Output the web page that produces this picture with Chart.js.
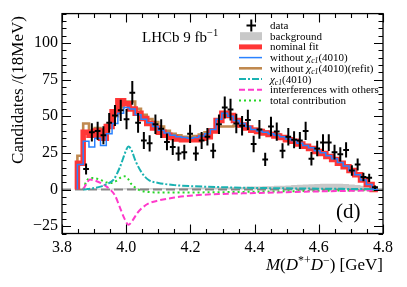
<!DOCTYPE html>
<html>
<head>
<meta charset="utf-8">
<script src="https://cdn.jsdelivr.net/npm/chart.js@4/dist/chart.umd.min.js"></script>
<style>
  body { margin: 0; background: #fff; }
  canvas { display: block; }
</style>
</head>
<body>
<canvas id="grafico" width="407" height="287"></canvas>
<script>
// 18 MeV bins, first data bin starts at 3.866 GeV
const binStart = 3.866;
const binWidth = 0.018;

const dataCounts = [14, 39, 40, 37, 45.5, 50.5, 54, 48, 66, 45.5,
  33.5, 31.5, 44.5, 41.5, 32.5, 29, 24.5, 25.5, 38, 24.5,
  33.5, 36, 26.5, 44.5, 56, 54.5, 45, 43.5, 47.5, 31,
  41, 20.5, 43, 39.5, 26.5, 36, 34, 33.5, 40, 21,
  28, 32, 32, 25.5, 24, 27, 13, 17, 8.5, 8,
  1.5];
const dataErrors = [3.7, 6.2, 6.3, 6.1, 6.7, 7.1, 7.3, 6.9, 8.1, 6.7,
  5.8, 5.6, 6.7, 6.4, 5.7, 5.4, 4.9, 5.0, 6.2, 4.9,
  5.8, 6.0, 5.1, 6.7, 7.5, 7.4, 6.7, 6.6, 6.9, 5.6,
  6.4, 4.5, 6.6, 6.3, 5.1, 6.0, 5.8, 5.8, 6.3, 4.6,
  5.3, 5.7, 5.7, 5.0, 4.9, 5.2, 3.6, 4.1, 2.9, 2.8,
  1.2];

const nominalFit = [18, 39, 37, 40, 35, 43, 53, 60.5, 58.5, 55,
  52, 48.5, 45, 42, 39, 37, 35.5, 34.5, 34, 34,
  34, 35, 36, 40, 47, 52, 50.5, 47, 44, 42,
  40.5, 39.5, 38.5, 37.5, 36.5, 35.5, 34, 33, 31, 29.5,
  28, 26, 24.5, 22.5, 20.5, 18, 15.5, 13, 10, 6.5,
  3.5];
const withoutChi = [17, 33, 29, 35, 30, 38, 45, 52, 56, 55,
  51, 48, 45.5, 43, 40.5, 38.5, 37, 36, 35.5, 35,
  35.5, 36.5, 38, 41, 48, 52, 50, 47, 45, 43,
  41, 40, 39, 38, 37, 36, 34.5, 33.5, 31.5, 30,
  28.5, 26.5, 25, 23, 21, 18.5, 16, 13, 10, 6.5,
  3.5];
const withoutChiRefit = [23, 45, 38, 42, 38, 44, 50, 56, 60, 60,
  55, 51, 48, 46, 43, 40, 38, 37, 36, 36,
  36.5, 37.5, 39, 41, 43, 43, 43, 43.5, 43, 42.5,
  41.5, 40.5, 39.5, 38.5, 37.5, 36, 34.5, 33.5, 31.5, 30,
  28, 26.5, 25, 23, 21, 18.5, 16, 13, 10, 6.5,
  3.5];
const background = [0.3, 0.4, 0.5, 0.5, 0.6, 0.6, 0.7, 0.7, 0.8, 0.8,
  0.8, 0.9, 0.9, 1.0, 1.0, 1.0, 1.1, 1.1, 1.2, 1.2,
  1.3, 1.3, 1.4, 1.4, 1.5, 1.5, 1.6, 1.7, 1.8, 1.9,
  2.0, 2.1, 2.2, 2.3, 2.5, 2.6, 2.8, 3.0, 3.2, 3.4,
  3.6, 3.8, 3.9, 4.0, 4.0, 3.9, 3.7, 3.4, 3.0, 2.6,
  2.0];

// smooth components
const chiMass = [3.866, 3.88, 3.90, 3.92, 3.94, 3.96, 3.98, 3.99, 4.0, 4.007, 4.015, 4.03, 4.05, 4.07, 4.10, 4.15, 4.20, 4.30, 4.40, 4.50, 4.60, 4.70, 4.784];
const chiValue = [0, 0.3, 1, 2, 3.8, 6.5, 15, 21, 27, 29.3, 27.5, 19, 11, 6.5, 4.5, 3, 2.3, 1.6, 1.1, 0.8, 0.6, 0.4, 0.3];
const interfMass = [3.866, 3.875, 3.887, 3.90, 3.92, 3.94, 3.95, 3.965, 3.98, 3.995, 4.007, 4.02, 4.035, 4.05, 4.07, 4.10, 4.15, 4.21, 4.30, 4.40, 4.50, 4.60, 4.70, 4.784];
const interfValue = [0, 3.5, 6.8, 6.3, 4.5, 1.8, 0, -4, -12, -20, -24, -21, -16, -12.5, -9.5, -7.5, -5.5, -4, -3, -2.4, -1.8, -1.3, -0.9, -0.5];
const totalMass = [3.866, 3.877, 3.89, 3.905, 3.92, 3.94, 3.955, 3.97, 3.985, 3.995, 4.005, 4.015, 4.03, 4.045, 4.065, 4.10, 4.20, 4.30, 4.40, 4.50, 4.60, 4.70, 4.784];
const totalValue = [0, 6, 7.8, 7.6, 6.5, 4.8, 4.5, 6, 8.5, 9, 7.5, 4, 1, -0.8, -1.6, -2, -2, -1.8, -1.5, -1.2, -0.9, -0.6, -0.4];

const xTicks = [3.8, 4.0, 4.2, 4.4, 4.6, 4.8];
const yTicks = [-25, 0, 25, 50, 75, 100];

const SERIF = "'Liberation Serif', 'DejaVu Serif', serif";
const colors = {
  red: '#ff3636',
  blue: '#2a82ff',
  brown: '#c0894f',
  cyan: '#1ab2b2',
  magenta: '#ff3acb',
  green: '#26d626',
  grey: '#c8c8c8'
};

// step histogram: one empty bin before, drop to zero after the last bin
function histo(values) {
  const pts = [{ x: binStart - binWidth, y: 0 }];
  values.forEach((v, i) => pts.push({ x: binStart + i * binWidth, y: v }));
  pts.push({ x: binStart + values.length * binWidth, y: 0 });
  return pts;
}

function curve(xs, ys) {
  return xs.map((x, i) => ({ x, y: ys[i] }));
}

// draws text made of pieces: '' normal, 'i' italic, 'sup', 'isub'
function richText(ctx, parts, x, y, size, align) {
  const fontOf = st => {
    const small = st === 'sup' || st === 'isub' || st === 'sub';
    const it = st === 'i' || st === 'isub';
    return (it ? 'italic ' : '') + (small ? size * 0.7 : size) + 'px ' + SERIF;
  };
  let total = 0;
  parts.forEach(([t, st]) => { ctx.font = fontOf(st); total += ctx.measureText(t).width; });
  let cx = align === 'right' ? x - total : x;
  ctx.textAlign = 'left';
  ctx.textBaseline = 'alphabetic';
  parts.forEach(([t, st]) => {
    ctx.font = fontOf(st);
    let dy = 0;
    if (st === 'sup') dy = -size * 0.38;
    if (st === 'isub' || st === 'sub') dy = size * 0.2;
    ctx.fillText(t, cx, y + dy);
    cx += ctx.measureText(t).width;
  });
}

const legendRows = [
  [['data', '']],
  [['background', '']],
  [['nominal fit', '']],
  [['without ', ''], ['χ', 'i'], ['c1', 'isub'], ['(4010)', '']],
  [['without ', ''], ['χ', 'i'], ['c1', 'isub'], ['(4010)(refit)', '']],
  [['χ', 'i'], ['c1', 'isub'], ['(4010)', '']],
  [['interferences with others', '']],
  [['total contribution', '']]
];

const errorBars = {
  id: 'errorBars',
  afterDatasetsDraw(chart) {
    const { ctx, scales: { x, y } } = chart;
    const meta = chart.getDatasetMeta(0);
    ctx.save();
    ctx.strokeStyle = '#000';
    ctx.lineWidth = 2;
    ctx.beginPath();
    meta.data.forEach((pt, i) => {
      const v = dataCounts[i];
      const c = binStart + (i + 0.5) * binWidth;
      const xl = x.getPixelForValue(c - binWidth / 2);
      const xr = x.getPixelForValue(c + binWidth / 2);
      ctx.moveTo(xl, pt.y);
      ctx.lineTo(xr, pt.y);
      ctx.moveTo(pt.x, y.getPixelForValue(v - dataErrors[i]));
      ctx.lineTo(pt.x, y.getPixelForValue(v + dataErrors[i]));
    });
    ctx.stroke();
    ctx.restore();
  }
};

const frameTicks = {
  id: 'frameTicks',
  afterDatasetsDraw(chart) {
    const { ctx, chartArea: a, scales: { x, y } } = chart;
    ctx.save();
    ctx.strokeStyle = '#000';
    ctx.lineWidth = 1.3;
    ctx.strokeRect(a.left, a.top, a.right - a.left, a.bottom - a.top);
    ctx.lineWidth = 1.1;
    ctx.beginPath();
    for (let i = 0; i <= 20; i++) {
      const v = 3.8 + i * 0.05;
      const px = Math.round(x.getPixelForValue(v)) + 0.5;
      const len = i % 4 === 0 ? 9 : 4.5;
      ctx.moveTo(px, a.bottom); ctx.lineTo(px, a.bottom - len);
      ctx.moveTo(px, a.top); ctx.lineTo(px, a.top + len);
    }
    for (let i = 0; i <= 30; i++) {
      const v = -30 + i * 5;
      const py = Math.round(y.getPixelForValue(v)) + 0.5;
      const len = v % 25 === 0 ? 9 : 4.5;
      ctx.moveTo(a.left, py); ctx.lineTo(a.left + len, py);
      ctx.moveTo(a.right, py); ctx.lineTo(a.right - len, py);
    }
    ctx.stroke();
    ctx.restore();
  }
};

const labels = {
  id: 'labels',
  afterDraw(chart) {
    const { ctx, chartArea: a } = chart;
    ctx.save();
    ctx.fillStyle = '#000';

    // axis titles
    ctx.save();
    ctx.translate(19, 90);
    ctx.rotate(-Math.PI / 2);
    ctx.font = '17px ' + SERIF;
    ctx.textAlign = 'center';
    ctx.textBaseline = 'middle';
    ctx.fillText('Candidates /(18MeV)', 0, 0);
    ctx.restore();

    richText(ctx, [['M', 'i'], ['(', ''], ['D', 'i'], ['*+', 'sup'], ['D', 'i'], ['−', 'sup'], [') [GeV]', '']],
      a.right, 270, 17, 'right');

    richText(ctx, [['LHCb 9 fb', ''], ['−1', 'sup']], 142, 42, 15, 'left');
    ctx.font = '21px ' + SERIF;
    ctx.textAlign = 'left';
    ctx.fillText('(d)', 336, 218);

    // legend
    const x0 = 239, x1 = 262, tx = 270;
    legendRows.forEach((parts, i) => {
      const by = 29 + 10.7 * i;
      const cy = by - 3.5;
      ctx.save();
      ctx.beginPath();
      if (i === 0) {
        ctx.strokeStyle = '#000'; ctx.lineWidth = 2;
        ctx.moveTo(246.5, cy); ctx.lineTo(256, cy);
        ctx.moveTo(251.3, cy - 6); ctx.lineTo(251.3, cy + 6);
        ctx.stroke();
      } else if (i === 1) {
        ctx.fillStyle = colors.grey;
        ctx.fillRect(240, cy - 4, 22, 8);
      } else {
        const st = [null, null,
          [colors.red, 5, []],
          [colors.blue, 1.5, []],
          [colors.brown, 2.6, []],
          [colors.cyan, 2, [7, 2, 2, 2]],
          [colors.magenta, 2, [6, 3]],
          [colors.green, 2, [2, 3]]][i];
        ctx.strokeStyle = st[0]; ctx.lineWidth = st[1]; ctx.setLineDash(st[2]);
        ctx.moveTo(x0, cy); ctx.lineTo(x1, cy);
        ctx.stroke();
      }
      ctx.restore();
      ctx.fillStyle = '#000';
      richText(ctx, parts, tx, by, 11, 'left');
    });
    ctx.restore();
  }
};

new Chart(document.getElementById('grafico'), {
  type: 'line',
  data: {
    datasets: [
      {
        label: 'data',
        data: dataCounts.map((v, i) => ({ x: binStart + (i + 0.5) * binWidth, y: v })),
        showLine: false, pointRadius: 0, order: 0
      },
      {
        label: 'without chi_c1(4010)',
        data: histo(withoutChi), stepped: 'after',
        borderColor: colors.blue, borderWidth: 1.5, pointRadius: 0, fill: false, order: 1
      },
      {
        label: 'chi_c1(4010)',
        data: curve(chiMass, chiValue), cubicInterpolationMode: 'monotone',
        borderColor: colors.cyan, borderWidth: 2, borderDash: [7, 2, 2, 2], pointRadius: 0, fill: false, order: 2
      },
      {
        label: 'interferences with others',
        data: curve(interfMass, interfValue), cubicInterpolationMode: 'monotone',
        borderColor: colors.magenta, borderWidth: 2, borderDash: [6, 3], pointRadius: 0, fill: false, order: 3
      },
      {
        label: 'total contribution',
        data: curve(totalMass, totalValue), cubicInterpolationMode: 'monotone',
        borderColor: colors.green, borderWidth: 2, borderDash: [2, 3], pointRadius: 0, fill: false, order: 4
      },
      {
        label: 'without chi_c1(4010)(refit)',
        data: histo(withoutChiRefit), stepped: 'after',
        borderColor: colors.brown, borderWidth: 2.6, pointRadius: 0, fill: false, order: 6
      },
      {
        label: 'nominal fit',
        data: histo(nominalFit), stepped: 'after',
        borderColor: colors.red, borderWidth: 5.5, pointRadius: 0, fill: false, order: 5
      },
      {
        label: 'zero',
        data: [{ x: 3.8, y: 0 }, { x: 4.8, y: 0 }],
        borderColor: '#858585', borderWidth: 1.8, borderDash: [9, 4], pointRadius: 0, fill: false, order: 7
      },
      {
        label: 'background',
        data: histo(background), stepped: 'after',
        borderWidth: 0, backgroundColor: colors.grey, pointRadius: 0, fill: 'origin', order: 8
      }
    ]
  },
  options: {
    responsive: false,
    devicePixelRatio: 1,
    animation: false,
    events: [],
    layout: { padding: { left: 0, right: 24, top: 12, bottom: 0 } },
    plugins: { legend: { display: false }, tooltip: { enabled: false } },
    scales: {
      x: {
        type: 'linear', min: 3.8, max: 4.8,
        afterBuildTicks: s => { s.ticks = xTicks.map(v => ({ value: v })); },
        afterFit: s => { s.height = 53.5; },
        grid: { display: false, drawTicks: false },
        border: { display: false },
        ticks: {
          autoSkip: false, maxRotation: 0, padding: 5, color: '#000',
          font: { family: SERIF, size: 16 },
          callback: v => Number(v).toFixed(1)
        }
      },
      y: {
        type: 'linear', min: -30, max: 120,
        afterBuildTicks: s => { s.ticks = yTicks.map(v => ({ value: v })); },
        afterFit: s => { s.width = 62; },
        grid: { display: false, drawTicks: false },
        border: { display: false },
        ticks: {
          autoSkip: false, padding: 4, color: '#000',
          font: { family: SERIF, size: 16 },
          callback: v => String(v).replace('-', '−')
        }
      }
    }
  },
  plugins: [errorBars, frameTicks, labels]
});
</script>
</body>
</html>
